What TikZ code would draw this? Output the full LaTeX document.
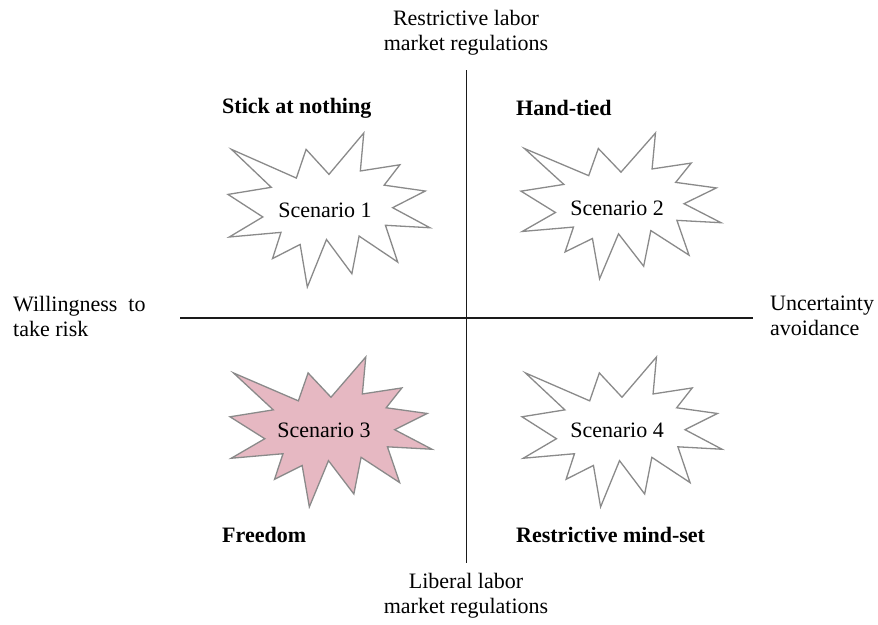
\documentclass[tikz,border=0pt]{standalone}
\usepackage{fontspec}
\setmainfont{Liberation Serif}
\usetikzlibrary{positioning}
\definecolor{cAxis}{HTML}{1A1A1A}
\definecolor{cEdge}{HTML}{8A8A8A}
\definecolor{cPink}{HTML}{E6B8C2}
\tikzset{
  font=\rmfamily\fontsize{22}{25}\selectfont,
  axis/.style={draw=cAxis, line width=1.8pt},
  axlabel/.style={align=center, inner sep=0pt},
  sidelabel/.style={align=left, inner sep=0pt, anchor=west},
  quad/.style={font=\rmfamily\fontsize{22}{25}\selectfont\bfseries, inner sep=0pt, anchor=west},
  scen/.style={inner sep=0pt},
  % explosion outline in a 216 x 216 box, top left at the pic origin
  burst/.pic={
    \draw[draw=cEdge, fill=#1, line width=1.3pt]
      (108,58) -- (145.22,0) -- (141.55,53.25) -- (183.80,44.57) -- (167.02,73.15)
      -- (210.97,81.37) -- (176.07,104.75) -- (216,132.90) -- (168.37,129.42)
      -- (181.45,180.95) -- (140.20,144.57) -- (132.47,197.37) -- (105.32,149.35)
      -- (84.85,216) -- (77.15,156.27) -- (47.62,176.17) -- (56.67,139.37)
      -- (1.35,145.87) -- (37.22,117.75) -- (0,86.15) -- (46.27,76.17)
      -- (3.70,22.95) -- (73.12,63.20) -- (83.52,22.95) -- cycle;
  },
}

\begin{document}
\begin{tikzpicture}[x=1pt, y=-1pt]
\useasboundingbox (0,0) rectangle (878,624);

% ------------------------------------------------------------------ axes
\coordinate (top)   at (466.5,70);
\coordinate (bot)   at (466.5,563);
\coordinate (left)  at (180,318);
\coordinate (right) at (753,318);
\draw[axis] (top) -- (bot);
\draw[axis] (left) -- (right);

\node[axlabel] (restr) at (466,33)  {Restrictive labor\\market regulations};
\node[axlabel] (liber) at (466,596) {Liberal labor\\market regulations};
\node[sidelabel] (risk)  at (13,316)  {Willingness~ to\\take risk};
\node[sidelabel] (uncer) at (770,316) {Uncertainty\\avoidance};

% ------------------------------------------------------------------ scenarios
\pic[xscale=0.935, yscale=0.713] at (228,133) {burst=white};
\pic[xscale=0.926, yscale=0.675] at (521,133) {burst=white};
\pic[xscale=0.935, yscale=0.694] at (230,357) {burst=cPink};
\pic[xscale=0.926, yscale=0.694] at (522,357) {burst=white};

\node[scen] (scen1) at (325,210) {Scenario 1};
\node[scen] (scen2) at (617,208) {Scenario 2};
\node[scen] (scen3) at (324,430) {Scenario 3};
\node[scen] (scen4) at (617,430) {Scenario 4};

\node[quad] (stick) at (222,108) {Stick at nothing};
\node[quad] (hand)  at (516,108) {Hand-tied};
\node[quad] (free)  at (222,535) {Freedom};
\node[quad] (mind)  at (516,535) {Restrictive mind-set};

\end{tikzpicture}
\end{document}
